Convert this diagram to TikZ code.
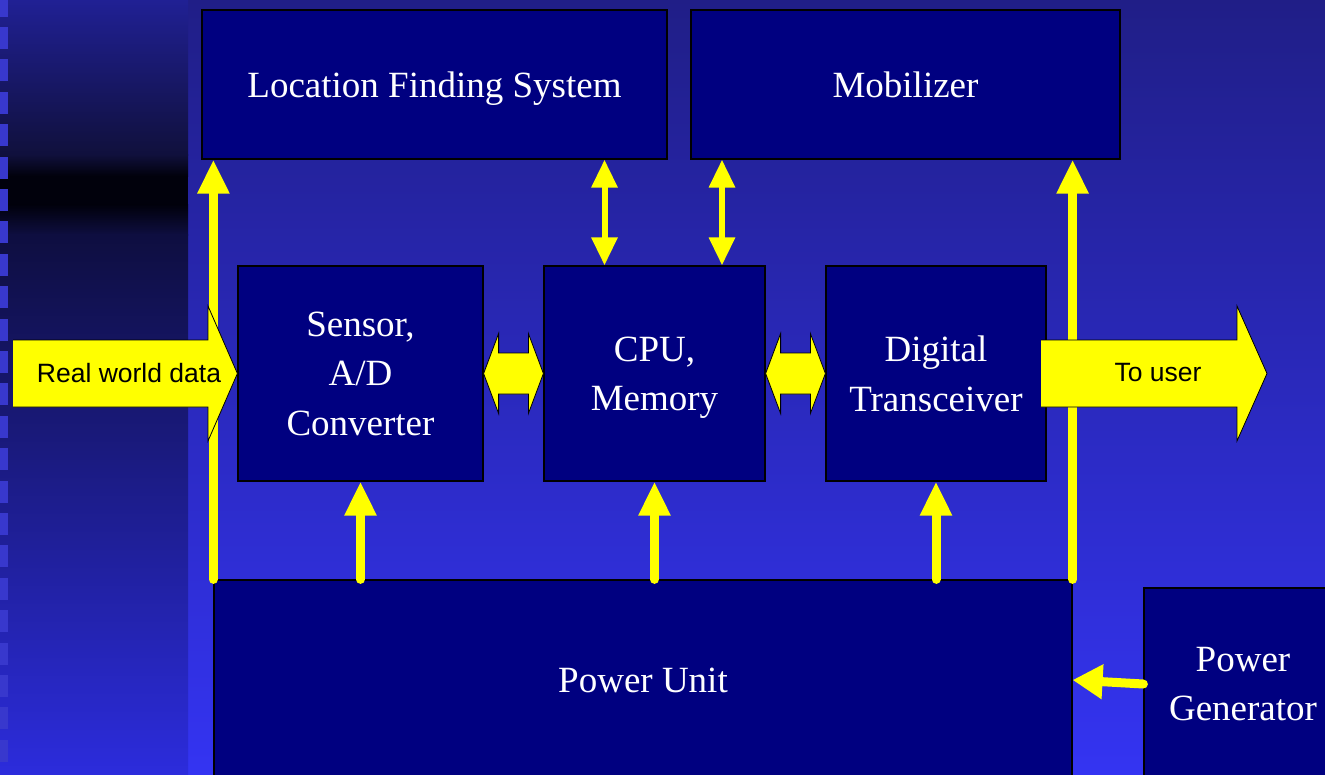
\documentclass[tikz,border=0pt]{standalone}
\usepackage{fontspec}
\setmainfont{Liberation Serif}
\newfontfamily\arialfont{Liberation Sans}
\usetikzlibrary{arrows.meta,calc}
\definecolor{boxnavy}{RGB}{0,0,128}
\definecolor{ptyellow}{RGB}{255,255,0}
\definecolor{bgtop}{RGB}{32,30,135}
\definecolor{bgbot}{RGB}{52,52,242}
\definecolor{striptop}{RGB}{32,32,148}
\definecolor{stripmid}{RGB}{16,16,60}
\definecolor{stripdark}{RGB}{1,1,12}
\definecolor{stripnavy}{RGB}{14,14,64}
\definecolor{stripbot}{RGB}{44,44,220}
\definecolor{tick}{RGB}{56,56,205}

% two-headed block arrow between two anchors on one horizontal line
\newcommand\dualblock[2]{%
  \path[blk] let \p1=(#1), \p2=(#2) in
    (\x1,\y1) -- (\x1+15pt,\y1+40pt) -- (\x1+15pt,\y1+20.5pt)
    -- (\x2-15pt,\y1+20.5pt) -- (\x2-15pt,\y1+40pt) -- (\x2,\y1)
    -- (\x2-15pt,\y1-40pt) -- (\x2-15pt,\y1-20.5pt)
    -- (\x1+15pt,\y1-20.5pt) -- (\x1+15pt,\y1-40pt) -- cycle;}

\begin{document}
\begin{tikzpicture}[x=1pt,y=-1pt,
  unit/.style={fill=boxnavy, draw=black, line width=1.2pt, text=white,
    inner sep=0pt, align=center, text depth=0pt,
    font=\fontsize{37}{49.5}\selectfont},
  feed/.style={draw=ptyellow, line width=9pt, line cap=round,
    -{Triangle[length=34pt,width=30pt]}},
  link/.style={draw=ptyellow, line width=6pt,
    {Triangle[length=28pt,width=25pt]}-{Triangle[length=28pt,width=25pt]}},
  supply/.style={draw=ptyellow, line width=9pt, line cap=round,
    -{Triangle[length=30pt,width=33pt]}},
  blk/.style={fill=ptyellow, draw=black, line width=0.8pt, line join=miter},
  blkedge/.style={draw=black, line width=0.8pt, line join=miter},
  lbl/.style={text=black, inner sep=0pt,
    font=\arialfont\fontsize{26.5}{30}\selectfont}]

\useasboundingbox (0,0) rectangle (1325,774);

% background
\shade[top color=bgtop, bottom color=bgbot] (188,0) rectangle (1325,774);
\shade[top color=striptop, bottom color=stripmid] (0,0) rectangle (188,155);
\shade[top color=stripmid, bottom color=stripdark] (0,154.5) rectangle (188,176);
\fill[stripdark] (0,175.5) rectangle (188,205);
\shade[top color=stripdark, bottom color=stripnavy] (0,204.5) rectangle (188,235);
\shade[top color=stripnavy, bottom color=stripbot] (0,234.5) rectangle (188,774);
\foreach \k in {0,...,23}
  \fill[tick] (0,{-5.4+32.4*\k}) rectangle (8,{16.6+32.4*\k});

% units
\node[unit, minimum width=465pt, minimum height=149pt] (lfs) at (434.5,84.5) {Location Finding System};
\node[unit, minimum width=429pt, minimum height=149pt] (mob) at (905.5,84.5) {Mobilizer};
\node[unit, minimum width=245pt, minimum height=215pt] (sens) at (360.5,373.5) {Sensor,\\A/D\\Converter};
\node[unit, minimum width=221pt, minimum height=215pt] (cpu) at (654.5,373.5) {CPU,\\Memory};
\node[unit, minimum width=220pt, minimum height=215pt] (dt) at (936,373.5) {Digital\\Transceiver};
\node[unit, minimum width=858pt, minimum height=200pt] (pu) at (643,680) {Power Unit};
\node[unit, minimum width=198pt, minimum height=192pt] (pg) at (1243,684) {Power\\Generator};

% power feeds
\draw[feed] (pu.north west) -- (pu.north west |- lfs.south);
\draw[feed] (pu.north east) -- (pu.north east |- mob.south);
\draw[feed] (pu.north -| sens.south) -- (sens.south);
\draw[feed] (pu.north -| cpu.south) -- (cpu.south);
\draw[feed] (pu.north -| dt.south) -- (dt.south);
\draw[supply] (pg.west) -- (pu.east);

% processor links
\draw[link] ($(cpu.north)+(-50,0)$) -- ($(cpu.north |- lfs.south)+(-50,0)$);
\draw[link] ($(cpu.north)+(67.5,0)$) -- ($(cpu.north |- mob.south)+(67.5,0)$);

% data paths
\dualblock{sens.east}{cpu.west}
\dualblock{cpu.east}{dt.west}

\coordinate (intail) at (13,373.5);
\fill[ptyellow] (intail |- 0,340) -- (208,340) -- (208,306) -- (sens.west)
  -- (208,441) -- (208,407) -- (intail |- 0,407) -- cycle;
\draw[blkedge] (intail |- 0,340) -- (208,340) -- (208,306) -- (sens.west)
  -- (208,441) -- (208,407) -- (intail |- 0,407);
\node[lbl] (rwd) at (129,373) {Real world data};

\coordinate (usertip) at (1267,373.5);
\fill[ptyellow] (1041,340) -- (1237,340) -- (1237,306) -- (usertip)
  -- (1237,441) -- (1237,407) -- (1041,407) -- cycle;
\draw[blkedge] (1041,340) -- (1237,340) -- (1237,306) -- (usertip)
  -- (1237,441) -- (1237,407) -- (1041,407);
\node[lbl] (tu) at (1158,373) {To user};

\end{tikzpicture}
\end{document}
